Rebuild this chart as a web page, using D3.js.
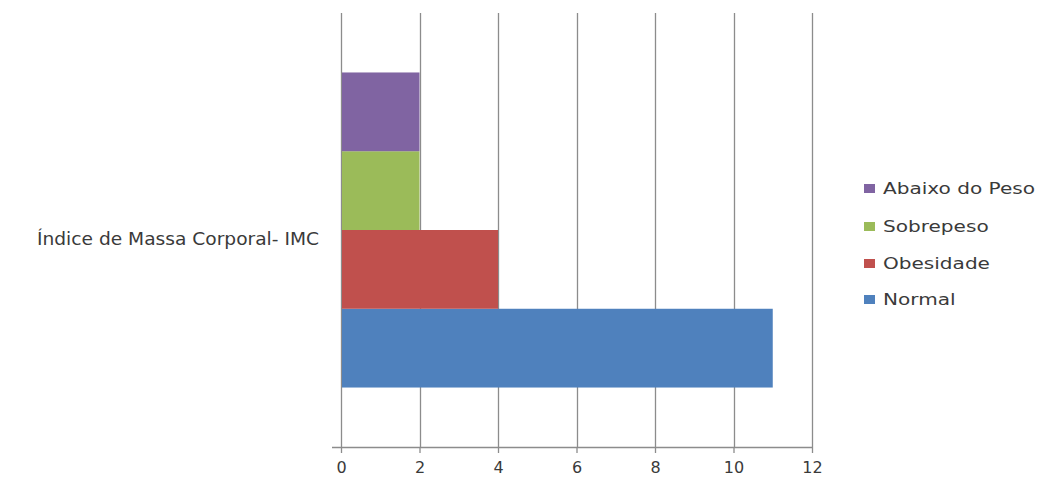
<!DOCTYPE html>
<html><head><meta charset="utf-8">
<script src="https://cdn.jsdelivr.net/npm/d3@7"></script>
<style>body{margin:0;background:#fff}svg{display:block}</style>
</head><body>
<svg id="c" width="1038" height="482"></svg>
<script>
const categories = ["Índice de Massa Corporal- IMC"];
const seriesNames = ["Normal", "Obesidade", "Sobrepeso", "Abaixo do Peso"];
const seriesValues = [11, 4, 2, 2];
const seriesColors = ["#4F81BD", "#C0504D", "#9BBB59", "#8064A2"];
const xTicks = [0, 2, 4, 6, 8, 10, 12];

(function () {
const svg = d3.select("#c");
const mLeft = 341, mRight = 812, mTop = 13, mBottom = 447;
const font = "DejaVu Sans, Verdana, sans-serif";
const textColor = "#3a3a3a";

const x = d3.scaleLinear().domain([0, 12]).range([mLeft, mRight]);
const y = d3.scaleBand().domain(categories).range([mTop, mBottom]).padding(0);

// gridlines
svg.append("g").selectAll("line").data(xTicks).join("line")
  .attr("x1", d => Math.round(x(d)) + 0.5).attr("x2", d => Math.round(x(d)) + 0.5)
  .attr("y1", mTop).attr("y2", mBottom)
  .attr("stroke", "#8c8c8c").attr("stroke-width", 1.3);

// bars
const order = seriesNames.slice().reverse();
categories.forEach(cat => {
  const inner = d3.scaleBand().domain(order)
    .range([y(cat), y(cat) + y.bandwidth()]).paddingInner(0).paddingOuter(0.755);
  svg.append("g").selectAll("rect").data(seriesNames).join("rect")
    .attr("x", x(0) + 1)
    .attr("y", d => inner(d))
    .attr("width", (d, i) => x(seriesValues[i]) - x(0) - 1)
    .attr("height", inner.bandwidth())
    .attr("fill", (d, i) => seriesColors[i]);
  svg.append("text").attr("x", 37).attr("y", y(cat) + y.bandwidth() / 2 + 15)
    .attr("font-family", font).attr("font-size", 17).attr("fill", textColor)
    .attr("textLength", 282).attr("lengthAdjust", "spacingAndGlyphs")
    .text(cat);
});

// x axis
const ax = svg.append("g").attr("transform", `translate(0,${mBottom})`)
  .call(d3.axisBottom(x).tickValues(xTicks).tickSize(6).tickPadding(6));
ax.select(".domain").attr("stroke", "#8c8c8c").attr("stroke-width", 1.3)
  .attr("d", `M${mLeft - 9},0.5H${mRight + 1}`);
ax.selectAll(".tick line").attr("stroke", "#8c8c8c").attr("stroke-width", 1.3);
ax.selectAll(".tick text").attr("font-family", font).attr("font-size", 16)
  .attr("fill", textColor).attr("dy", "0.85em");

// legend
const lg = svg.append("g");
const legendY = [188, 226, 263, 299];
const texts = [];
order.forEach((name, i) => {
  const idx = seriesNames.indexOf(name);
  lg.append("rect").attr("x", 864).attr("y", legendY[i] - 4).attr("width", 11).attr("height", 9)
    .attr("fill", seriesColors[idx]);
  texts.push(lg.append("text").attr("x", 883).attr("y", legendY[i] + 6)
    .attr("font-family", font).attr("font-size", 16).attr("fill", textColor)
    .text(name));
});
const factor = 152 / texts[0].node().getComputedTextLength();
texts.forEach(t => {
  const w = t.node().getComputedTextLength();
  t.attr("textLength", w * factor).attr("lengthAdjust", "spacingAndGlyphs");
});
})();
</script>
</body></html>
